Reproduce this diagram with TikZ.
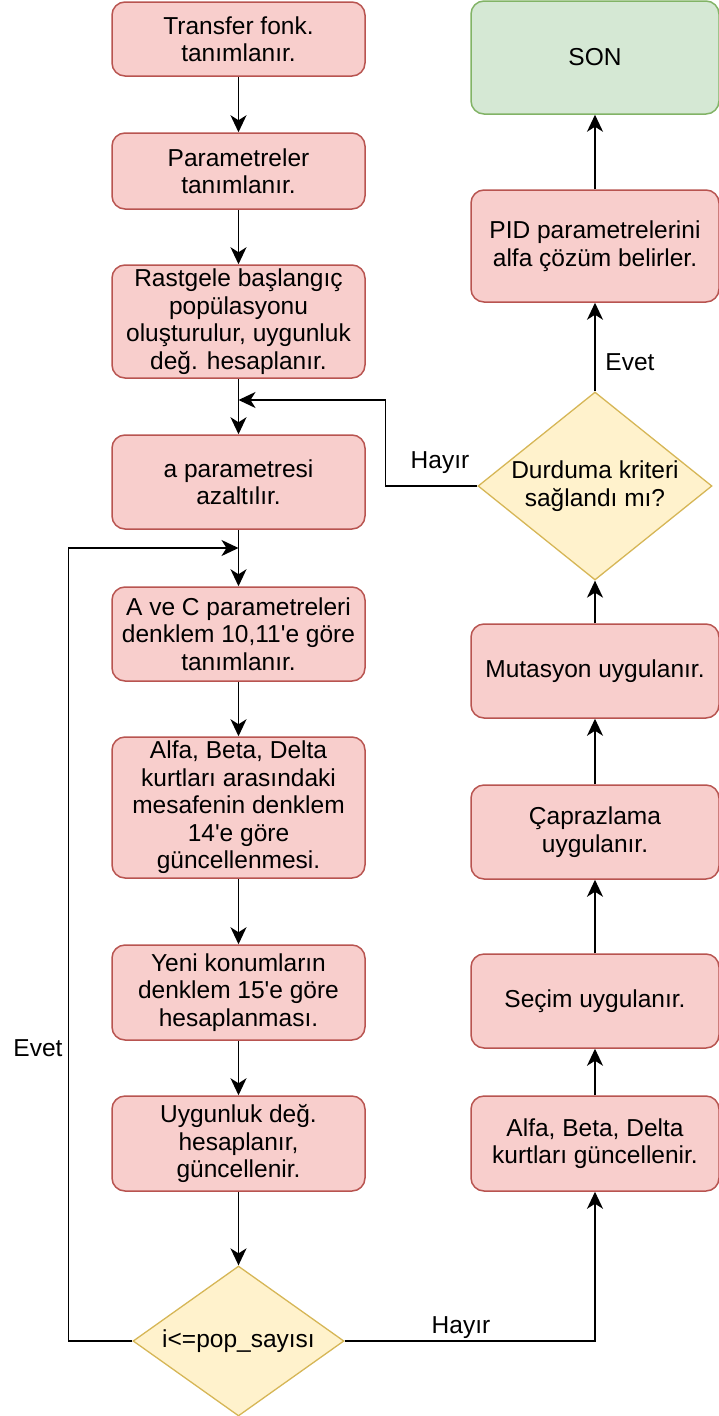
\documentclass[tikz,border=0pt]{standalone}
\usepackage{fontspec}
\setmainfont{Liberation Sans}
\usetikzlibrary{shapes.geometric,arrows.meta}
\definecolor{pinkfill}{HTML}{F8CECC}
\definecolor{pinkline}{HTML}{B85450}
\definecolor{greenfill}{HTML}{D5E8D4}
\definecolor{greenline}{HTML}{82B366}
\definecolor{yelfill}{HTML}{FFF2CC}
\definecolor{yelline}{HTML}{D6B656}
\newcommand{\dfont}{\fontsize{24.5}{27.5}\selectfont}
\begin{document}
\begin{tikzpicture}[x=1pt,y=-1pt,
  box/.style={rectangle, rounded corners=13pt, draw=pinkline, fill=pinkfill, line width=1.5pt, align=center, font=\dfont, inner sep=0pt},
  endbox/.style={box, draw=greenline, fill=greenfill},
  decision/.style={diamond, draw=yelline, fill=yelfill, line width=1.3pt, inner sep=0pt},
  dtext/.style={align=center, font=\dfont, inner sep=0pt},
  lbl/.style={font=\dfont, inner sep=0pt},
  conn/.style={line width=1.7pt, -{Stealth[length=17pt,width=16pt,inset=5pt]}}
]
\useasboundingbox (0,0) rectangle (719,1416);
% left column
\node[box, minimum width=253pt, minimum height=74pt] (b1) at (238.5,39) {Transfer fonk.\\tanımlanır.};
\node[box, minimum width=253pt, minimum height=76pt] (b2) at (238.5,171) {Parametreler\\tanımlanır.};
\node[box, minimum width=253pt, minimum height=113pt] (b3) at (238.5,321.5) {Rastgele başlangıç\\popülasyonu\\oluşturulur, uygunluk\\değ. hesaplanır.};
\node[box, minimum width=253pt, minimum height=94pt] (b4) at (238.5,482) {a parametresi\\azaltılır.};
\node[box, minimum width=253pt, minimum height=94pt] (b5) at (238.5,634) {A ve C parametreleri\\denklem 10,11\textquotesingle e göre\\tanımlanır.};
\node[box, minimum width=253pt, minimum height=141pt] (b6) at (238.5,807.5) {Alfa, Beta, Delta\\kurtları arasındaki\\mesafenin denklem\\14\textquotesingle e göre\\güncellenmesi.};
\node[box, minimum width=253pt, minimum height=95pt] (b7) at (238.5,992.5) {Yeni konumların\\denklem 15\textquotesingle e göre\\hesaplanması.};
\node[box, minimum width=253pt, minimum height=95pt] (b8) at (238.5,1143.5) {Uygunluk değ.\\hesaplanır,\\güncellenir.};
\node[decision, minimum width=211pt, minimum height=150pt] (d2) at (238.5,1341) {};
\node[dtext] (d2t) at (d2.center) {i<=pop\_sayısı};
% right column
\node[endbox, minimum width=248pt, minimum height=113pt] (son) at (595,57.5) {SON};
\node[box, minimum width=248pt, minimum height=112pt] (pid) at (595,246) {PID parametrelerini\\alfa çözüm belirler.};
\node[decision, minimum width=234pt, minimum height=188pt] (d1) at (595,486) {};
\node[dtext] (d1t) at (d1.center) {Durduma kriteri\\sağlandı mı?};
\node[box, minimum width=248pt, minimum height=94pt] (r4) at (595,671) {Mutasyon uygulanır.};
\node[box, minimum width=248pt, minimum height=94pt] (r3) at (595,832) {Çaprazlama\\uygulanır.};
\node[box, minimum width=248pt, minimum height=94pt] (r2) at (595,1001) {Seçim uygulanır.};
\node[box, minimum width=248pt, minimum height=95pt] (r1) at (595,1143.5) {Alfa, Beta, Delta\\kurtları güncellenir.};
% junctions
\coordinate (j1) at (238.5,400);
\coordinate (j2) at (238.5,548);
% labels
\node[lbl] (hayir1) at (440,463) {Hayır};
\node[lbl] (evet1) at (38,1048) {Evet};
\node[lbl] (hayir2) at (461,1328) {Hayır};
\node[lbl] (evet2) at (630,362) {Evet};
% connectors left
\draw[conn] (b1.south) -- (b2.north);
\draw[conn] (b2.south) -- (b3.north);
\draw[conn] (b3.south) -- (b4.north);
\draw[conn] (b4.south) -- (b5.north);
\draw[conn] (b5.south) -- (b6.north);
\draw[conn] (b6.south) -- (b7.north);
\draw[conn] (b7.south) -- (b8.north);
\draw[conn] (b8.south) -- (d2.north);
\draw[conn] (d1.west) -- ++(-92,0) |- (j1);
\draw[conn] (d2.west) -- ++(-64,0) |- (j2);
\draw[conn] (d2.east) -| (r1.south);
% connectors right
\draw[conn] (r1.north) -- (r2.south);
\draw[conn] (r2.north) -- (r3.south);
\draw[conn] (r3.north) -- (r4.south);
\draw[conn] (r4.north) -- (d1.south);
\draw[conn] (d1.north) -- (pid.south);
\draw[conn] (pid.north) -- (son.south);
\end{tikzpicture}
\end{document}
